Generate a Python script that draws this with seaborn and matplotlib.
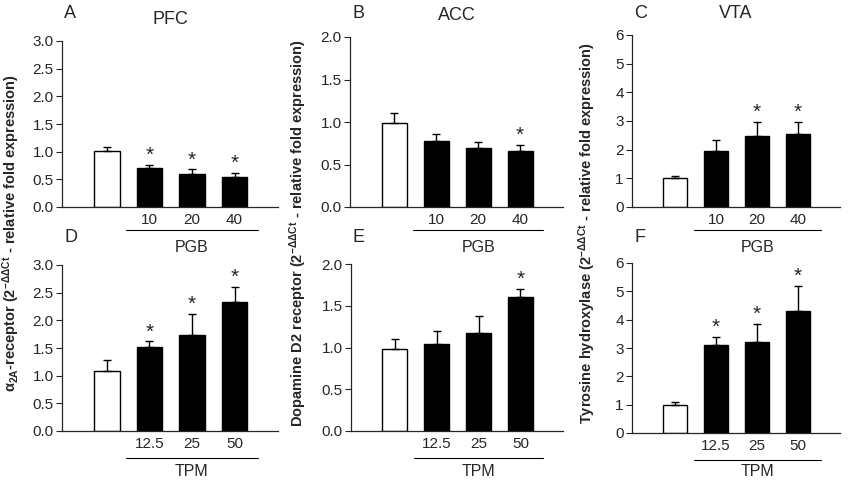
import numpy as np
import pandas as pd
import matplotlib
matplotlib.use("Agg")
import matplotlib.pyplot as plt
import matplotlib.transforms as mtransforms
import seaborn as sns

sns.set_style("ticks")
plt.rcParams['font.family'] = ['Liberation Sans', 'DejaVu Sans']
plt.rcParams['mathtext.default'] = 'regular'

# data (mean, upper error bar)
groups = ["Vehicle", "D1", "D2", "D3"]
pgb_doses = ["", "10", "20", "40"]
tpm_doses = ["", "12.5", "25", "50"]

pfc_mean = [1.01, 0.70, 0.60, 0.54]
pfc_err = [0.07, 0.06, 0.08, 0.08]
pfc_sig = [False, True, True, True]

acc_mean = [0.99, 0.78, 0.70, 0.66]
acc_err = [0.11, 0.08, 0.07, 0.07]
acc_sig = [False, False, False, True]

vta_mean = [1.00, 1.97, 2.48, 2.55]
vta_err = [0.07, 0.38, 0.50, 0.42]
vta_sig = [False, False, True, True]

a2a_mean = [1.08, 1.51, 1.73, 2.34]
a2a_err = [0.21, 0.11, 0.38, 0.27]
a2a_sig = [False, True, True, True]

d2_mean = [0.98, 1.04, 1.17, 1.60]
d2_err = [0.12, 0.16, 0.21, 0.10]
d2_sig = [False, False, False, True]

th_mean = [1.00, 3.09, 3.20, 4.31]
th_err = [0.08, 0.31, 0.66, 0.88]
th_sig = [False, True, True, True]

W, H = 850, 482
fig = plt.figure(figsize=(W / 100, H / 100), dpi=100)


def px_box(left, top, right, bottom):
    return [left / W, 1 - bottom / H, (right - left) / W, (bottom - top) / H]


panels = [
    # letter, title, mean, err, sig, doses, group label, ylim, yticks, fmt, box
    ("A", "PFC", pfc_mean, pfc_err, pfc_sig, pgb_doses, "PGB", 3.0, np.arange(0, 3.01, 0.5), "{:.1f}", (62, 41, 278, 207)),
    ("B", "ACC", acc_mean, acc_err, acc_sig, pgb_doses, "PGB", 2.0, np.arange(0, 2.01, 0.5), "{:.1f}", (350, 37, 563, 207)),
    ("C", "VTA", vta_mean, vta_err, vta_sig, pgb_doses, "PGB", 6, np.arange(0, 7, 1), "{:.0f}", (632, 35, 840, 207)),
    ("D", None, a2a_mean, a2a_err, a2a_sig, tpm_doses, "TPM", 3.0, np.arange(0, 3.01, 0.5), "{:.1f}", (62, 265, 278, 431)),
    ("E", None, d2_mean, d2_err, d2_sig, tpm_doses, "TPM", 2.0, np.arange(0, 2.01, 0.5), "{:.1f}", (351, 264, 563, 431)),
    ("F", None, th_mean, th_err, th_sig, tpm_doses, "TPM", 6, np.arange(0, 7, 1), "{:.0f}", (632, 263, 840, 433)),
]

for letter, title, mean, err, sig, doses, glabel, ymax, yticks, fmt, box in panels:
    ax = fig.add_axes(px_box(*box))
    df = pd.DataFrame({"group": groups, "value": mean})
    sns.barplot(data=df, x="group", y="value", hue="group", order=groups,
                palette=["white", "black", "black", "black"], edgecolor="black",
                linewidth=1.0, width=0.6, legend=False, ax=ax)
    x = np.arange(len(groups))
    ax.errorbar(x, mean, yerr=[np.zeros(len(err)), err], fmt="none",
                ecolor="black", elinewidth=1.0, capsize=3, capthick=1.0)
    for xi, m, e, s in zip(x, mean, err, sig):
        if s:
            ax.annotate("*", (xi, m + e), xytext=(0, 0), textcoords="offset points",
                        ha="center", va="bottom", fontsize=15)
    ax.set_xlim(-1.05, 4.02)
    ax.set_ylim(0, ymax)
    ax.set_yticks(yticks)
    ax.set_yticklabels([fmt.format(t) for t in yticks])
    ax.set_xticks(x)
    ax.set_xticklabels(doses)
    ax.tick_params(axis="x", length=0, pad=4, labelsize=11)
    ax.tick_params(axis="y", length=4, width=0.8, direction="out", labelsize=11, pad=2)
    ax.set_xlabel("")
    ax.set_ylabel("")
    sns.despine(ax=ax)
    for sp in ax.spines.values():
        sp.set_linewidth(0.9)

    ax_h = box[3] - box[1]
    trans = mtransforms.blended_transform_factory(ax.transData, ax.transAxes)
    line_y = -(23 if letter in "ABC" else 27) / ax_h
    text_y = -(41 if letter in "ABC" else (box[3] - 472)) / ax_h if letter in "ABC" else -(472 - box[3]) / ax_h
    ax.plot([0.46, 3.55], [line_y, line_y], color="black", lw=0.8,
            transform=trans, clip_on=False)
    ax.text(2.0, text_y, glabel, transform=trans, ha="center", va="center", fontsize=11.5)

    fig.text((box[0] + 2) / W, 1 - (14 if letter in "ABC" else 237) / H, letter,
             ha="left", va="center", fontsize=13)
    if title:
        ax.text(0.5, 1 + 21 / ax_h, title, transform=ax.transAxes,
                ha="center", va="center", fontsize=13)

ylabels = [
    (11, r"$\alpha_{2A}$-receptor (2$^{-\Delta\Delta Ct}$ - relative fold expression)"),
    (298, r"Dopamine D2 receptor (2$^{-\Delta\Delta Ct}$ - relative fold expression)"),
    (587, r"Tyrosine hydroxylase (2$^{-\Delta\Delta Ct}$ - relative fold expression)"),
]
for xpx, lab in ylabels:
    fig.text(xpx / W, 1 - 233 / H, lab, rotation=90, ha="center", va="center",
             fontsize=10.5, fontweight="semibold")

fig.savefig("out.png", dpi=100)
